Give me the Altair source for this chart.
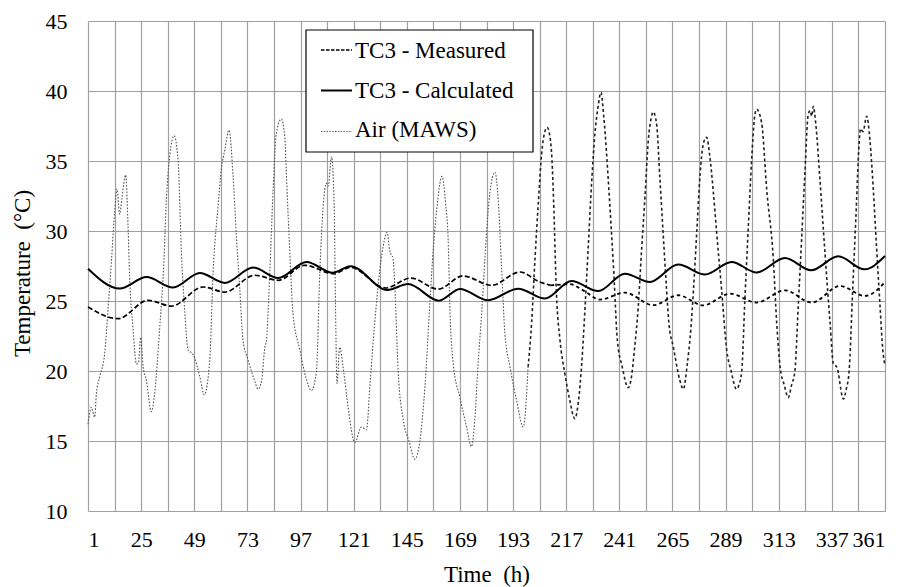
import altair as alt
import pandas as pd

# ---------------- data ----------------
air_hours = [
    1, 2.5, 4.0, 4.8, 6.3, 8.5, 10, 11.6, 13.1, 14.1, 15.3, 16.3, 18.0, 19.1, 19.8,
    21.3, 22.9, 23.8, 24.8, 25.9, 27.4, 29.6, 31.1, 33.4, 35.3, 36.4, 38.0, 39.9,
    41.7, 43.2, 44.7, 46.2, 48.4, 51.5, 53.5, 56.0, 57.5, 59.7, 61.3, 62.8, 64.7,
    66.5, 68.0, 69.5, 71.0, 73.3, 76.3, 77.8, 79.4, 80.9, 81.6, 83.1, 84.6, 86.1,
    88.4, 89.9, 90.6, 92.0, 93.6, 96.7, 99.5, 101.9, 104.2, 105.7, 107.2, 108.7,
    109.5, 111.0, 112.2, 112.8, 113.5, 114.7, 116.2, 118.5, 121.5, 124.5, 126.8,
    128.3, 130.6, 132.8, 134.8, 136.1, 137.3, 138.8, 139.6, 141.1, 143.4, 146.0,
    148.6, 150.9, 153.2, 155.4, 156.9, 158.5, 160.9, 162.5, 163.7, 164.5, 166.0,
    169.0, 172.0, 174.2, 175.7, 177.2, 178.8, 181.0, 182.5, 184.8, 186.3, 187.8,
    189.3, 191.6, 194.6, 197.6, 199.8,
    201.4, 202.9, 204.4, 205.9, 207.2, 208.4, 209.6, 210.6, 211.3, 212.6, 214.2,
    216.4, 218.5, 220.9, 222.5, 224.0, 225.5, 227.0, 228.5, 230.0, 231.5, 232.7,
    234.0, 236.3, 238.5, 240.1, 242.3, 245.0, 246.5, 247.8, 249.5, 251.0, 252.6,
    254.1, 255.3, 256.3, 257.8, 259.3, 260.8, 262.3, 263.4, 265.4, 268.4, 269.9,
    271.7, 273.3, 274.5, 276.0, 277.5, 278.9, 280.4, 281.9, 283.4, 284.9, 287.2,
    289.5, 291.5, 293.9, 295.0, 296.3, 297.7, 299.2, 300.8, 302.0, 303.0, 305.3,
    307.6, 310.5, 312.1, 313.6, 315.5, 317.3, 318.8, 320.3, 321.8, 323.3, 324.8,
    326.3, 327.2, 327.9, 328.6, 329.7, 331.6, 333.9, 336.2, 337.7, 339.2, 342.2,
    343.5, 344.8, 346.3, 347.8, 349.3, 349.9, 351.1, 352.7, 354.2, 355.7, 357.2,
    358.7, 360.0, 361.0,
]
air_values = [
    16.2, 17.4, 16.7, 18.4, 19.6, 21.2, 24.3, 27.9, 31.5, 33.0, 31.2, 32.3, 34.0, 30.3, 26.7,
    23.1, 20.5, 20.6, 22.4, 20.3, 19.3, 17.1, 18.4, 23.1, 27.9, 32.2, 35.5, 36.8,
    35.0, 28.4, 24.3, 21.5, 21.2, 19.6, 18.3, 20.8, 27.0, 31.7, 34.5, 35.8, 37.2,
    34.0, 29.7, 26.0, 22.2, 20.8, 19.3, 18.7, 19.3, 21.7, 22.2, 27.0, 32.9, 37.0,
    38.0, 36.7, 34.1, 29.0, 24.1, 21.5, 19.5, 18.6, 20.0, 27.0, 31.7, 33.4,
    33.2, 35.3, 31.7, 24.6, 19.1, 21.7, 20.3, 17.4, 14.9, 16.0, 15.8,
    18.9, 23.6, 27.2, 29.3, 29.9, 28.6, 28.0, 26.0, 20.0, 16.5, 15.0,
    13.7, 15.0, 18.9, 24.8, 28.6, 31.5, 33.9, 32.0, 29.3, 24.3, 20.5,
    18.1, 16.0, 14.6, 16.5, 20.5, 24.1, 29.8, 32.7, 34.2, 32.2, 27.4,
    22.7, 20.3, 17.9, 16.0, 20.3,
    23.5, 28.0, 32.0, 35.5, 37.0, 37.4, 36.8, 35.0, 32.2, 25.5, 22.2,
    19.8, 18.0, 16.6, 17.8, 20.5, 24.5, 29.0, 33.5, 37.0, 39.0, 39.9,
    38.1, 32.9, 27.0, 22.2, 20.3, 18.8, 19.6, 21.5, 24.5, 28.5, 32.5,
    36.5, 38.0, 38.5, 37.7, 33.8, 29.8, 25.9, 23.4, 21.7, 19.3, 18.7,
    20.5, 23.0, 25.8, 30.0, 34.1, 36.2, 36.7, 35.3, 32.9, 30.0, 25.8,
    21.5, 20.0, 18.7, 19.0, 20.0, 25.1, 30.1, 35.2, 38.0, 38.7, 37.7,
    32.9, 28.1, 23.4, 20.3, 19.0, 18.1, 19.0, 20.0, 24.6, 29.3, 34.1,
    38.3, 38.6, 38.2, 38.9, 37.7, 33.7, 28.4, 23.4, 20.5, 20.3, 18.0,
    18.7, 20.0, 25.4, 30.8, 36.2, 37.3, 37.1, 38.2, 36.5, 33.0, 28.8,
    24.8, 21.5, 20.4,
]

measured_hours = [
    1, 14.6, 28.1, 38.7, 53.0, 62.8, 76.3, 86.9, 98.9, 112.0, 119.5, 135.5, 146.8,
    159.2, 170.4, 183.3, 196.1, 205.0, 210.0, 218.7, 224.7, 232.2, 243.5, 256.3,
    267.6, 278.9, 291.0, 303.0, 315.8, 327.9, 340.7, 352.0, 361.0,
]
measured_values = [
    24.57, 23.74, 25.05, 24.64, 26.0, 25.64, 26.84, 26.48, 27.55, 26.95, 27.4, 25.93, 26.64,
    25.85, 26.79, 26.12, 27.07, 26.36, 26.12, 26.2, 25.76, 25.1, 25.6, 24.7,
    25.41, 24.69, 25.52, 24.89, 25.76, 24.89, 26.07, 25.36, 26.35,
]

calculated_hours = [
    1, 15.3, 27.4, 39.4, 51.5, 62.8, 75.6, 86.9, 99.7, 111.6, 119.6, 136.2, 145.6,
    159.5, 169.0, 181.7, 195.3, 207.4, 219.4, 231.5, 243.5, 254.8, 267.6, 279.7,
    291.7, 303.0, 315.8, 327.6, 339.9, 351.7, 361.0,
]
calculated_values = [
    27.31, 25.89, 26.71, 25.96, 27.0, 26.29, 27.39, 26.64, 27.79, 27.02, 27.49, 25.79, 26.21,
    25.02, 25.86, 25.05, 25.88, 25.17, 26.43, 25.71, 26.95, 26.36, 27.6, 26.89,
    27.79, 27.03, 28.07, 27.19, 28.19, 27.26, 28.21,
]

x_grid = list(range(1, 362, 12))
y_ticks = [10, 15, 20, 25, 30, 35, 40, 45]
legend_labels = ["TC3 - Measured", "TC3 - Calculated", "Air (MAWS)"]
AIR_SPLIT = 199.8      # hour where the air trace changes rendering
MEAS_SPLIT = 210.0     # hour where the measured trace changes rendering

FONT = "Times New Roman, Liberation Serif, DejaVu Serif, serif"

# ---------------- frames ----------------
air = pd.DataFrame({"h": air_hours, "v": air_values})
meas = pd.DataFrame({"h": measured_hours, "v": measured_values})
calc = pd.DataFrame({"h": calculated_hours, "v": calculated_values})

air1 = air[air.h <= AIR_SPLIT]
air2 = air[air.h >= AIR_SPLIT]
meas1 = meas[meas.h <= MEAS_SPLIT]
meas2 = meas[meas.h >= MEAS_SPLIT]

X = alt.X(
    "h:Q",
    scale=alt.Scale(domain=[1, 361], nice=False, zero=False),
    axis=alt.Axis(
        values=x_grid,
        labelExpr="(datum.value - 1) % 24 == 0 ? datum.label : ''",
        title="Time\u00a0 (h)",
        titleY=70,
        titleBaseline="alphabetic",
        labelPadding=18,
    ),
)
Y = alt.Y(
    "v:Q",
    scale=alt.Scale(domain=[10, 45], nice=False, zero=False),
    axis=alt.Axis(
        values=y_ticks,
        title="Temperature\u00a0 (°C)",
        titleX=-59,
        titleY=252,
        titleAngle=270,
        titleBaseline="alphabetic",
        labelPadding=21,
    ),
)


def series(df, color, width, dash=None):
    kw = dict(color=color, strokeWidth=width, interpolate="monotone")
    if dash:
        kw["strokeDash"] = dash
    return alt.Chart(df).mark_line(**kw).encode(x=X, y=Y)


layers = [
    series(air1, "#555555", 1.1, [1.6, 1.6]),
    series(air2, "#222222", 1.6, [3, 2.6]),
    series(meas1, "#000000", 1.7, [5, 2.5]),
    series(meas2, "#000000", 1.8, [3.5, 3]),
    series(calc, "#000000", 2.0),
]

# ---------------- legend box (pixel placement inside plot) ----------------
dummy = alt.Data(values=[{"a": 1}])
box = alt.Chart(dummy).mark_rect(fill="white", stroke="black", strokeWidth=1.2).encode(
    x=alt.value(218), x2=alt.value(445), y=alt.value(9), y2=alt.value(131)
)
layers.append(box)

sample_styles = [
    dict(color="#000000", strokeWidth=1.6, strokeDash=[3.5, 1.5]),
    dict(color="#000000", strokeWidth=2.0),
    dict(color="#555555", strokeWidth=1.1, strokeDash=[1.4, 1.4]),
]
sample_y = [29, 69.5, 110.5]
text_y = [37.3, 76.5, 116.2]
for lab, st, sy, ty in zip(legend_labels, sample_styles, sample_y, text_y):
    layers.append(
        alt.Chart(dummy).mark_rule(**st).encode(
            x=alt.value(233), x2=alt.value(264), y=alt.value(sy)
        )
    )
    layers.append(
        alt.Chart(dummy).mark_text(
            font=FONT, fontSize=23, align="left", baseline="alphabetic", color="black"
        ).encode(x=alt.value(267), y=alt.value(ty), text=alt.value(lab))
    )

chart = (
    alt.layer(*layers)
    .properties(
        width=797,
        height=490,
        autosize=alt.AutoSizeParams(type="none"),
        padding={"left": 80, "top": 13, "right": 9, "bottom": 76},
    )
    .configure_view(stroke=None)
    .configure_axis(
        grid=True,
        gridColor="#a0a0a0",
        gridWidth=1.2,
        domain=False,
        ticks=False,
        labelFont=FONT,
        labelFontSize=22,
        labelColor="black",
        titleFont=FONT,
        titleFontSize=23,
        titleFontWeight="normal",
        titleColor="black",
    )
)

chart.save("out.html", embed_options={"renderer": "svg", "actions": False})
